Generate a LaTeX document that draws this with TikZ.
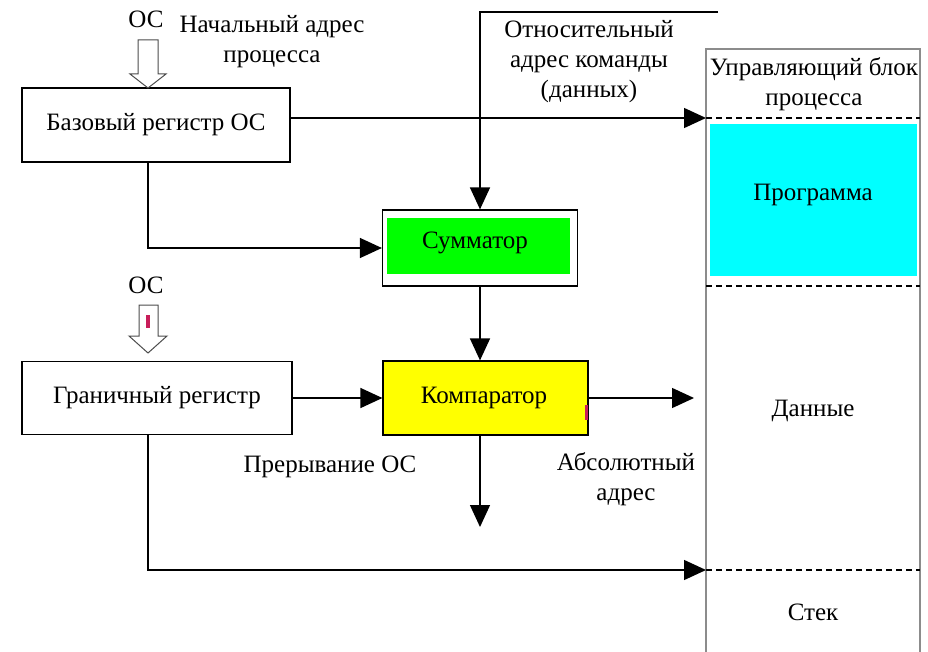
\documentclass[tikz,border=0pt]{standalone}
\usepackage{fontspec}
\setmainfont{Liberation Serif}
\usetikzlibrary{arrows.meta}
\definecolor{pcyan}{RGB}{0,255,255}
\definecolor{pyellow}{RGB}{255,255,0}
\definecolor{pgreen}{RGB}{0,255,0}
\definecolor{pmark}{RGB}{200,30,90}
\begin{document}
\begin{tikzpicture}[x=1pt,y=-1pt,
  every node/.style={font=\fontsize{25}{30}\selectfont, inner sep=0pt, align=center},
  regbox/.style={draw, line width=1.2pt, fill=white},
  conn/.style={line width=1.4pt},
  arr/.style={conn, -{Triangle[length=22pt,width=20pt]}},
  hollow/.style={draw=black!70, line width=1pt, fill=white},
  sep/.style={line width=1.3pt, dash pattern=on 6pt off 4pt},
  colborder/.style={draw=black!45, line width=1.4pt}]
\useasboundingbox (0,0) rectangle (928,652);

% memory column
\draw[colborder] (706,652) -- (706,49) -- (920,49) -- (920,652);
\fill[pcyan] (710,124) rectangle (917,276);
\draw[sep] (706,118) -- (920,118);
\draw[sep] (706,286) -- (920,286);
\draw[sep] (706,570) -- (920,570);
\node (pcb) at (814,84) {Управляющий блок\\процесса};
\node (prog) at (813,195) {Программа};
\node (data) at (813,411) {Данные};
\node (stack) at (813,612) {Стек};
\coordinate (pcbin) at (706,118);
\coordinate (stackin) at (706,570);
\coordinate (absout) at (694,398);

% registers
\node[regbox, minimum width=268pt, minimum height=74pt] (base) at (156,125) {Базовый регистр ОС};
\node[regbox, minimum width=270pt, minimum height=73pt] (gran) at (157,398) {Граничный регистр};

% adder and comparator
\node[draw, line width=1.2pt, minimum width=195pt, minimum height=76pt] (summ) at (480,248) {};
\fill[pgreen] (387,218) rectangle (570,274);
\node at (475,243) {Сумматор};
\node[draw, line width=1.2pt, fill=pyellow, minimum width=205pt, minimum height=74pt] (comp) at (485.5,398) {};
\node at (484,398) {Компаратор};
\fill[pmark] (585,405) rectangle (588,420);

% labels
\node (os1) at (146,19) {ОС};
\node (nach) at (272,42) {Начальный адрес\\процесса};
\node (otn) at (589,62) {Относительный\\адрес команды\\(данных)};
\node (os2) at (146,285) {ОС};
\node (prer) at (330,467) {Прерывание ОС};
\node (abs) at (626,479) {Абсолютный\\адрес};

% hollow arrows
\draw[hollow] (138,40) -- (158,40) -- (158,74) -- (166,74) -- (148,88) -- (130,74) -- (138,74) -- cycle;
\draw[hollow] (139,305) -- (158,305) -- (158,336) -- (167,336) -- (148,353) -- (129,336) -- (139,336) -- cycle;
\fill[pmark] (146,315) rectangle (150,328);

% connectors
\coordinate (relin) at (718,12);
\coordinate (intr) at (480,527);
\draw[arr] (relin) -- (relin -| summ.north) -- (summ.north);
\draw[arr] (base.east |- pcbin) -- (pcbin);
\draw[arr] ([xshift=-8pt]base.south) |- (summ.west);
\draw[arr] (summ.south) -- (summ.south |- comp.north);
\draw[arr] (gran.east) -- (comp.west);
\draw[arr] (comp.east) -- (absout);
\draw[arr] (summ.south |- comp.south) -- (intr);
\draw[arr] ([xshift=-9pt]gran.south) |- (stackin);
\end{tikzpicture}
\end{document}
